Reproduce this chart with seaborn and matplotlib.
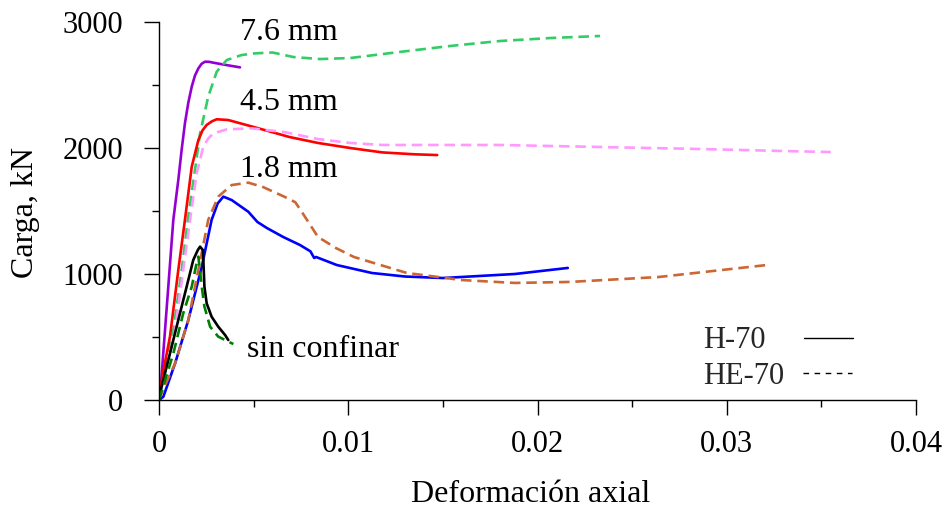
import matplotlib
matplotlib.use("Agg")
import matplotlib.pyplot as plt
import numpy as np
import pandas as pd
import seaborn as sns
from matplotlib.lines import Line2D
from matplotlib.ticker import MultipleLocator

sns.set_theme(style="ticks")
plt.rcParams["font.family"] = ["Liberation Serif", "DejaVu Serif"]

# ---------------- data ----------------
# H-70 (solid), 7.6 mm
h76_x = [0, 0.00004, 0.000227, 0.000491, 0.000756, 0.00102, 0.0012, 0.00137, 0.00155, 0.00173,
         0.0019, 0.00208, 0.00225, 0.00243, 0.00265, 0.00287, 0.0035, 0.00428]
h76_y = [0, 0, 373, 899, 1429, 1746, 1990, 2196, 2360, 2487,
         2575, 2632, 2668, 2685, 2684, 2677, 2660, 2640]
# HE-70 (dashed), 7.6 mm
he76_x = [0, 0.00023, 0.00076, 0.0012, 0.00152, 0.0019, 0.00217, 0.0026, 0.00305, 0.00358, 0.00437,
          0.00507, 0.006, 0.0071, 0.0085, 0.0101, 0.0127, 0.0154, 0.018, 0.0207, 0.0233]
he76_y = [0, 159, 556, 1032, 1429, 1825, 2116, 2407, 2606, 2698, 2738,
          2751, 2758, 2722, 2706, 2714, 2762, 2810, 2849, 2873, 2889]
# H-70, 4.5 mm
h45_x = [0, 0.00014, 0.00058, 0.00102, 0.00137, 0.00173, 0.00208, 0.0023, 0.00252, 0.0028, 0.00305,
         0.00366, 0.00507, 0.0069, 0.0084, 0.0101, 0.0118, 0.0135, 0.0147]
h45_y = [0, 159, 503, 1032, 1429, 1852, 2063, 2140, 2183, 2212, 2228,
         2222, 2164, 2087, 2040, 2000, 1965, 1950, 1944]
# HE-70, 4.5 mm
he45_x = [0, 0.00032, 0.00085, 0.00128, 0.00164, 0.00199, 0.00234, 0.0026, 0.00287, 0.00358, 0.0049,
          0.0066, 0.0084, 0.0101, 0.0118, 0.0154, 0.018, 0.0233, 0.0286, 0.033, 0.0355]
he45_y = [0, 185, 556, 1032, 1429, 1799, 2011, 2075, 2116, 2148, 2156,
          2127, 2071, 2040, 2024, 2024, 2024, 2008, 1992, 1976, 1968]
# H-70, 1.8 mm
h18_x = [0, 0.00023, 0.00085, 0.00155, 0.00226, 0.00278, 0.0031, 0.0034, 0.00384, 0.00472, 0.0052,
         0.0057, 0.00656, 0.00745, 0.008, 0.0082, 0.0083, 0.0094, 0.01125, 0.013, 0.015, 0.0188, 0.0216]
h18_y = [0, 26, 291, 635, 1058, 1429, 1560, 1614, 1587, 1494, 1413,
         1365, 1294, 1230, 1180, 1127, 1135, 1071, 1008, 980, 968, 1000, 1048]
# HE-70, 1.8 mm
he18_x = [0, 0.00014, 0.00085, 0.00155, 0.00208, 0.0026, 0.00313, 0.00384, 0.00472, 0.0055, 0.0066,
          0.0072, 0.00755, 0.0084, 0.00935, 0.0103, 0.0131, 0.016, 0.0188, 0.0217, 0.0264, 0.0321]
he18_y = [0, 56, 291, 635, 1032, 1429, 1614, 1706, 1725, 1690, 1615,
          1570, 1492, 1294, 1206, 1135, 1008, 952, 929, 937, 976, 1071]
# H-70, sin confinar
h0_x = [0, 0.00014, 0.00058, 0.00102, 0.00146, 0.00181, 0.00205, 0.00217, 0.00232, 0.00236,
        0.0024, 0.00252, 0.00278, 0.00313, 0.00349, 0.00366]
h0_y = [0, 106, 370, 635, 899, 1111, 1190, 1217, 1190, 1050,
        899, 767, 661, 582, 516, 476]
# HE-70, sin confinar
he0_x = [0, 0.00005, 0.00076, 0.00128, 0.00173, 0.00195, 0.00208, 0.00226, 0.0024, 0.0027, 0.00313, 0.00393]
he0_y = [0, 26, 370, 688, 899, 1060, 1138, 899, 741, 582, 503, 444]

series_names = ["H76", "HE76", "H45", "HE45", "H18", "HE18", "H0", "HE0"]
series_types = ["H-70", "HE-70", "H-70", "HE-70", "H-70", "HE-70", "H-70", "HE-70"]
series_x = [h76_x, he76_x, h45_x, he45_x, h18_x, he18_x, h0_x, he0_x]
series_y = [h76_y, he76_y, h45_y, he45_y, h18_y, he18_y, h0_y, he0_y]
series_colors = ["#9400D3", "#33CC66", "#FF0000", "#FF99FF", "#0000FF", "#CC6633", "#000000", "#008000"]

annot_text = ["7.6 mm", "4.5 mm", "1.8 mm", "sin confinar"]
annot_x = [0.00428, 0.00428, 0.00428, 0.00465]
annot_y = [2857, 2302, 1770, 341]

xticks = [0, 0.01, 0.02, 0.03, 0.04]
xtick_labels = ["0", "0.01", "0.02", "0.03", "0.04"]
yticks = [0, 1000, 2000, 3000]
ytick_labels = ["0", "1000", "2000", "3000"]
legend_labels = ["H-70", "HE-70"]

# ---------------- build table ----------------
frames = []
for n, t, xs, ys in zip(series_names, series_types, series_x, series_y):
    frames.append(pd.DataFrame({"x": xs, "y": ys, "serie": n, "tipo": t}))
df = pd.concat(frames, ignore_index=True)

palette = dict(zip(series_names, series_colors))

fig = plt.figure(figsize=(9.45, 5.15), dpi=100)
ax = fig.add_axes([159 / 945, 115 / 515, 757 / 945, 378 / 515])

sns.lineplot(data=df, x="x", y="y", hue="serie", style="tipo",
             hue_order=series_names, palette=palette,
             dashes={"H-70": "", "HE-70": (4, 2.2)},
             sort=False, estimator=None, legend=False, lw=1.9, ax=ax)

ax.set_xlim(0, 0.04)
ax.set_ylim(0, 3000)
ax.set_xticks(xticks)
ax.set_xticklabels(xtick_labels)
ax.set_yticks(yticks)
ax.set_yticklabels(ytick_labels)
ax.xaxis.set_minor_locator(MultipleLocator(0.005))
ax.yaxis.set_minor_locator(MultipleLocator(500))

ax.tick_params(axis="both", which="major", direction="out", length=10.8, width=1,
               color="black", labelsize=22, labelcolor="black")
ax.tick_params(axis="both", which="minor", direction="out", length=5, width=1, color="black")
ax.tick_params(axis="x", which="major", pad=11)
ax.tick_params(axis="y", which="major", pad=15)

for s in ["top", "right"]:
    ax.spines[s].set_visible(False)
for s in ["left", "bottom"]:
    ax.spines[s].set_color("black")
    ax.spines[s].set_linewidth(1.0)

ax.set_xlabel("Deformación axial", fontsize=23, color="black")
ax.set_ylabel("Carga, kN", fontsize=23, color="black")
ax.xaxis.set_label_coords((531 - 159) / 757, (400 - 480) / 378)
ax.yaxis.set_label_coords((40 - 159) / 757, (400 - 212) / 378)

for t, x, y in zip(annot_text, annot_x, annot_y):
    ax.text(x, y, t, fontsize=23, color="black", ha="left", va="baseline")

# legend: two single-entry legends so that the labels are left-aligned
h1 = Line2D([], [], color="black", lw=1.0, label=legend_labels[0])
h2 = Line2D([], [], color="black", lw=1.0, ls=(0, (4, 4)), label=legend_labels[1])
leg_common = dict(frameon=False, markerfirst=False, fontsize=22, handlelength=1.6,
                  borderpad=0, borderaxespad=0, loc="center left")
leg1 = ax.legend(handles=[h1], handletextpad=1.25,
                 bbox_to_anchor=((703 - 159) / 757, (400 - 341) / 378), **leg_common)
ax.add_artist(leg1)
ax.legend(handles=[h2], handletextpad=0.62,
          bbox_to_anchor=((703 - 159) / 757, (400 - 376) / 378), **leg_common)

ax.set_facecolor("white")
fig.patch.set_facecolor("white")
fig.savefig("out.png", dpi=100)
